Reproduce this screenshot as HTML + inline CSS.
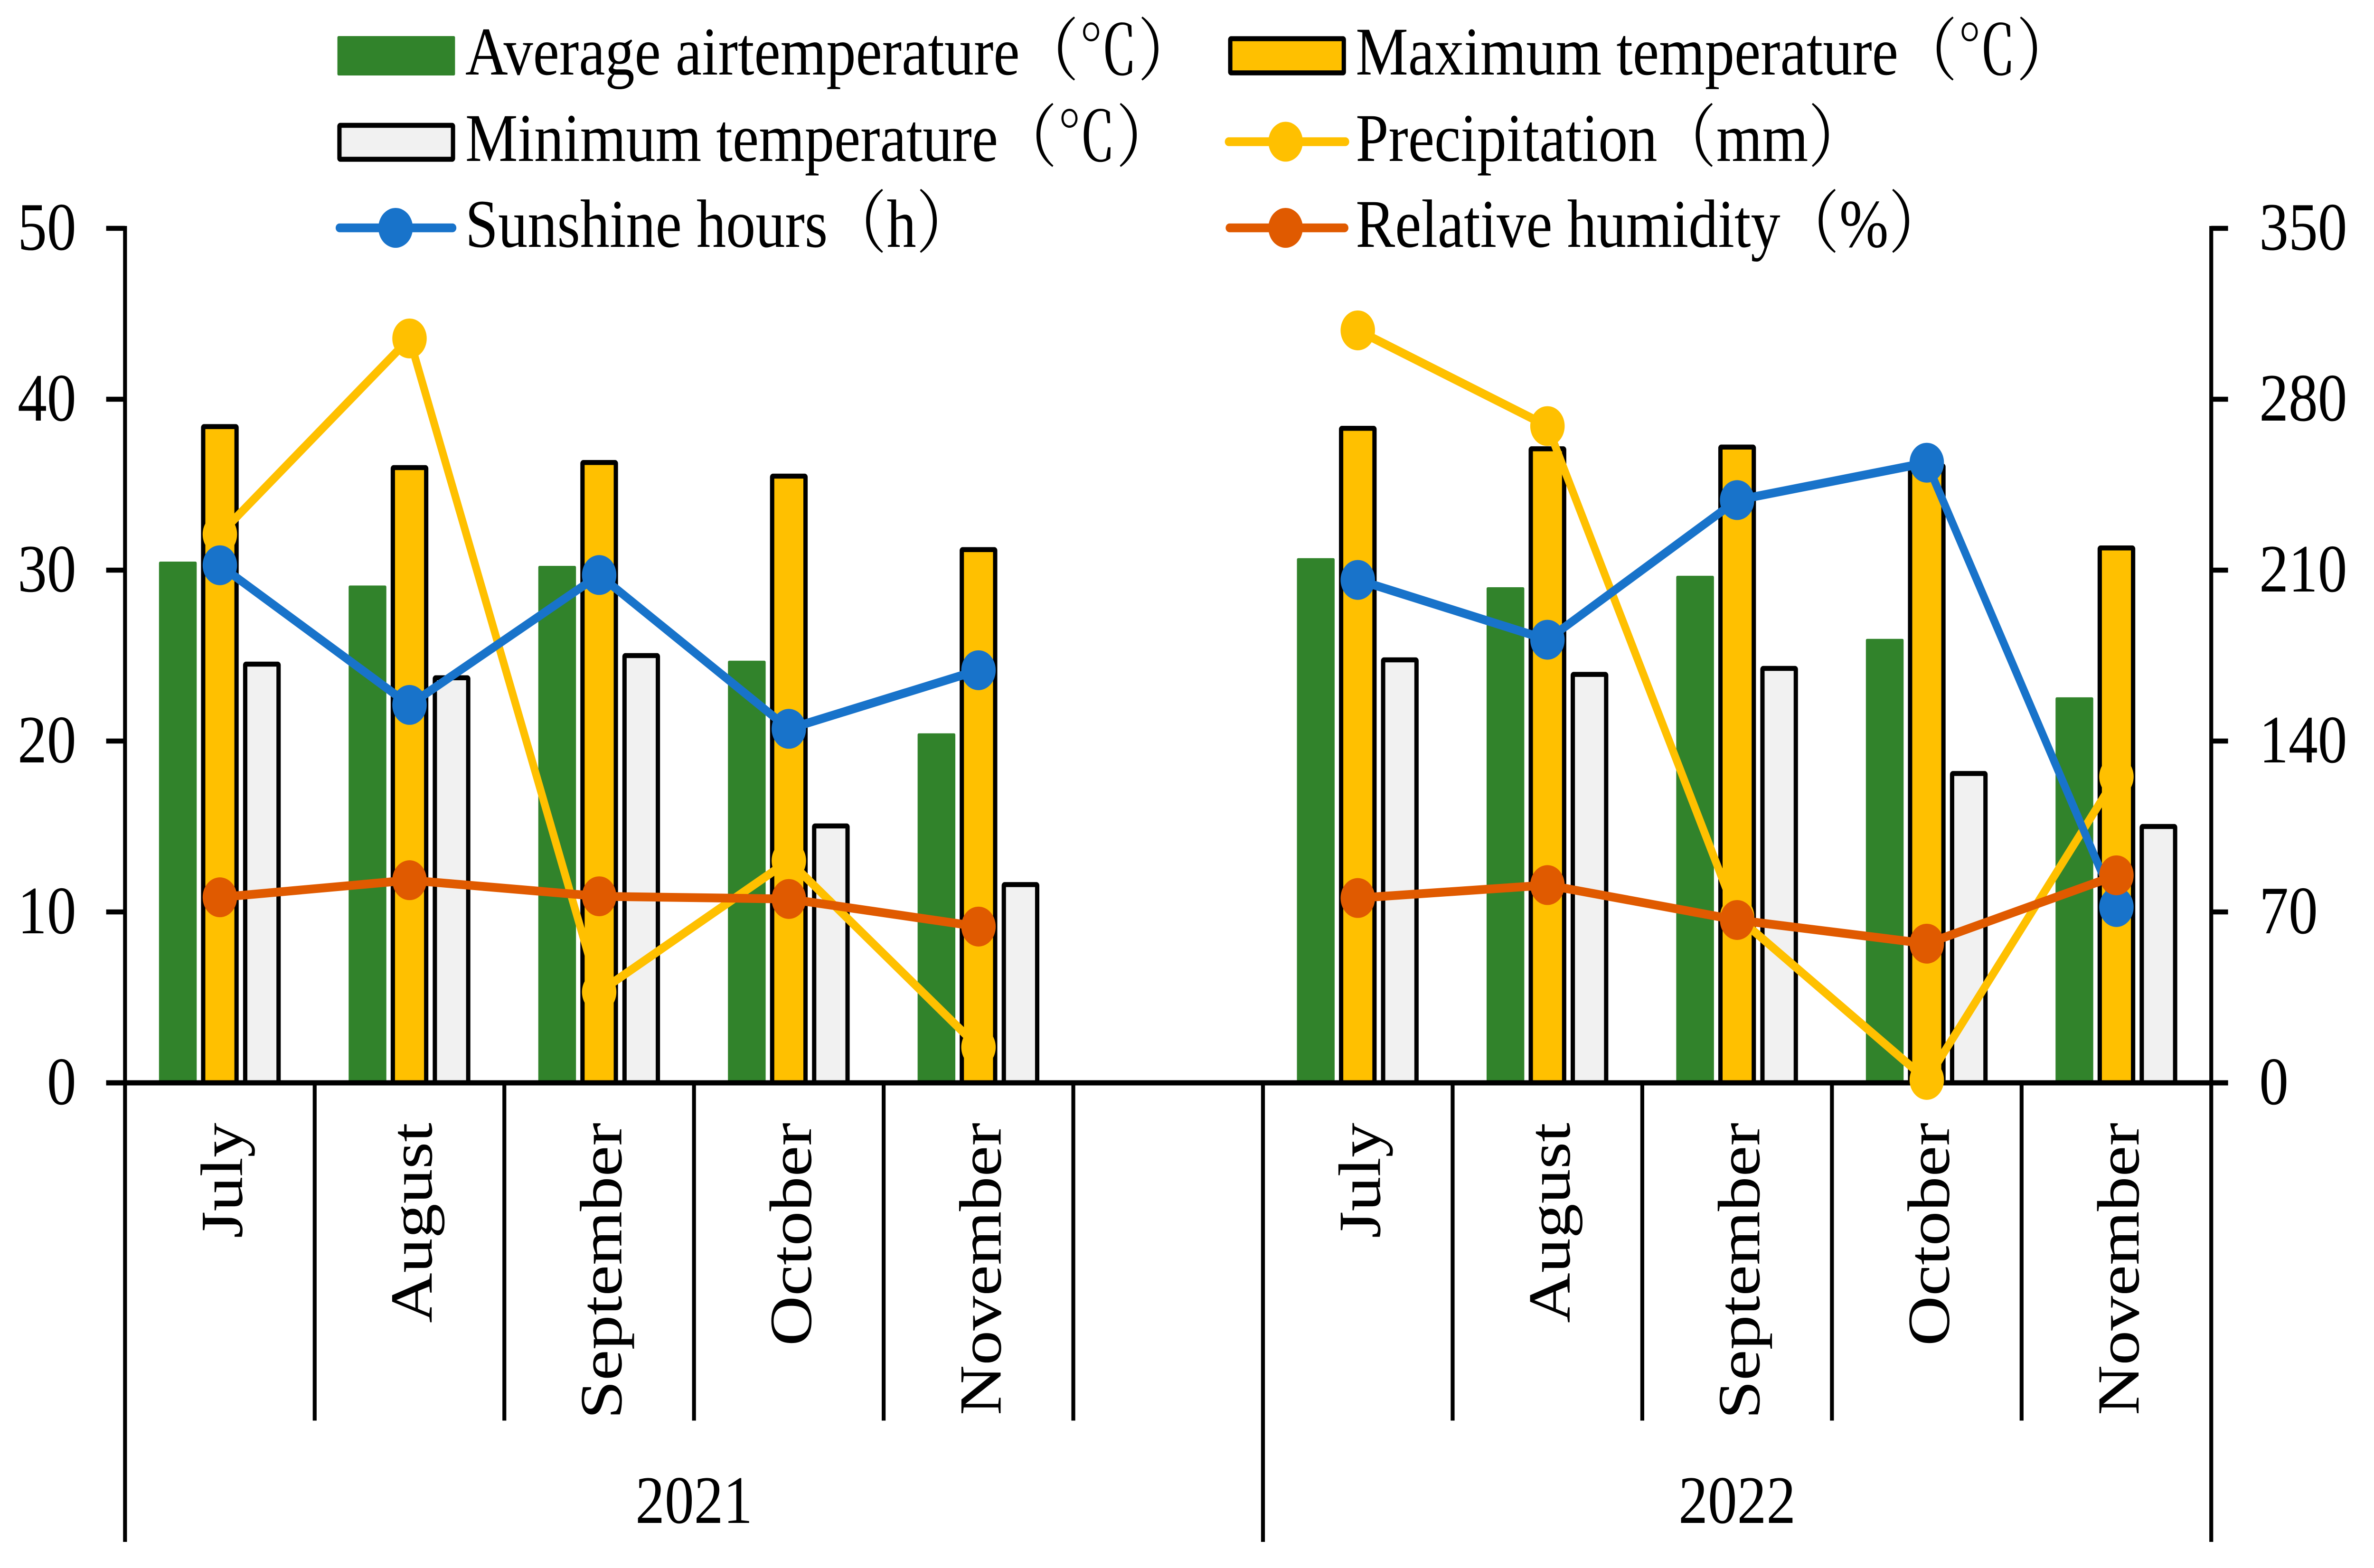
<!DOCTYPE html>
<html lang="en">
<head>
<meta charset="utf-8">
<title>Monthly weather conditions, 2021 and 2022</title>
<style>
html,body{margin:0;padding:0;background:#fff;width:100%;height:100%;overflow:hidden;}
svg{display:block;position:fixed;left:0;top:0;width:100vw;height:100vh;}
text{font-family:"Liberation Serif","Noto Serif CJK SC",serif;font-size:143px;fill:#000;}
#legend text{font-size:144px;}
</style>
</head>
<body>
<svg id="chart" xmlns="http://www.w3.org/2000/svg" viewBox="0 0 5791 3303" preserveAspectRatio="none">
  <rect x="0" y="0" width="5791" height="3303" fill="#fff"/>
  <g id="bars"></g>
  <g id="axes"></g>
  <g id="lines"></g>
  <g id="legend">
    <g>
      <rect x="823" y="76" width="287" height="83" rx="3" fill="#31832B"/>
      <text x="1135" y="157">Average airtemperature（℃）</text>
    </g>
    <g>
      <rect x="3001" y="81.5" width="277" height="72" rx="2" fill="#FFC000" stroke="#000" stroke-width="10.5"/>
      <text x="3307" y="157">Maximum temperature（℃）</text>
    </g>
    <g>
      <rect x="828" y="264" width="277" height="71.5" rx="2" fill="#F1F1F1" stroke="#000" stroke-width="10.5"/>
      <text x="1135" y="339">Minimum temperature（℃）</text>
    </g>
    <g>
      <line x1="2997" y1="298.5" x2="3282" y2="298.5" stroke="#FFC000" stroke-width="18.5" stroke-linecap="round"/>
      <circle cx="3136" cy="298.5" r="42" fill="#FFC000"/>
      <text x="3307" y="339">Precipitation（mm）</text>
    </g>
    <g>
      <line x1="828" y1="480" x2="1104" y2="480" stroke="#1873CA" stroke-width="18.5" stroke-linecap="round"/>
      <circle cx="965" cy="480" r="42" fill="#1873CA"/>
      <text x="1135" y="520">Sunshine hours（h）</text>
    </g>
    <g>
      <line x1="2999" y1="480" x2="3280" y2="480" stroke="#E05A00" stroke-width="18.5" stroke-linecap="round"/>
      <circle cx="3136" cy="480" r="42" fill="#E05A00"/>
      <text x="3307" y="520">Relative humidity（%）</text>
    </g>
  </g>
</svg>
<script>
const categories = ['July','August','September','October','November','','July','August','September','October','November'];
const years = ['2021','2022'];
const leftTicks = [0,10,20,30,40,50];
const rightTicks = [0,70,140,210,280,350];
const averageTemp = [30.5,29.1,30.25,24.7,20.45,null,30.7,29.0,29.67,25.98,22.56];
const maximumTemp = [38.4,36.0,36.3,35.5,31.2,null,38.3,37.1,37.2,36.1,31.3];
const minimumTemp = [24.5,23.7,25.0,15.03,11.6,null,24.75,23.9,24.25,18.1,15.0];
const precipitation = [224.7,304.9,37.2,91,14.6,null,308.2,269,68,1.2,125.4];
const sunshineHours = [212,154.8,208,145,169,null,206,181.5,238.7,254,72];
const relativeHumidity = [76,83,76.4,75.3,64,null,75.7,81,66.7,57,85];

const NS = 'http://www.w3.org/2000/svg';
const plotLeft = 305, plotRight = 5394, plotTop = 481, plotBottom = 2281;
const leftMax = leftTicks[leftTicks.length - 1];
const rightMax = rightTicks[rightTicks.length - 1];
const catWidth = (plotRight - plotLeft) / categories.length;
const barOffset = 102.5;
const xEdge = i => plotLeft + i * catWidth;
const xCenter = i => plotLeft + (i + 0.5) * catWidth;
const yLeft = v => plotBottom - (v / leftMax) * (plotBottom - plotTop);
const yRight = v => plotBottom - (v / rightMax) * (plotBottom - plotTop);

function make(tag, attrs, parent, content) {
  const el = document.createElementNS(NS, tag);
  for (const k in attrs) el.setAttribute(k, attrs[k]);
  if (content !== undefined) el.textContent = content;
  parent.appendChild(el);
  return el;
}
const barsG = document.getElementById('bars');
const axesG = document.getElementById('axes');
const linesG = document.getElementById('lines');

categories.forEach((cat, i) => {
  if (averageTemp[i] !== null) {
    const yA = yLeft(averageTemp[i]);
    const a = make('rect', {x: xCenter(i) - barOffset - 46, y: yA, width: 92, height: plotBottom - yA, rx: 3, fill: '#31832B'}, barsG);
    
    
  }
  if (maximumTemp[i] !== null) {
    const yM = yLeft(maximumTemp[i]);
    const m = make('rect', {x: xCenter(i) - 40.7, y: yM, width: 81.4, height: plotBottom - yM, rx: 2, fill: '#FFC000', stroke: '#000', 'stroke-width': 10.5}, barsG);
    
    
  }
  if (minimumTemp[i] !== null) {
    const yN = yLeft(minimumTemp[i]);
    const n = make('rect', {x: xCenter(i) + barOffset - 40.7, y: yN, width: 81.4, height: plotBottom - yN, rx: 2, fill: '#F1F1F1', stroke: '#000', 'stroke-width': 10.5}, barsG);
    
    
  }
});

const leftAxis = make('line', {x1: plotLeft, y1: plotTop - 5, x2: plotLeft, y2: 3248, stroke: '#000', 'stroke-width': 9.5}, axesG);


const rightAxis = make('line', {x1: plotRight, y1: plotTop - 5, x2: plotRight, y2: 3248, stroke: '#000', 'stroke-width': 9.5}, axesG);


const baseLine = make('line', {x1: 259, y1: plotBottom, x2: 5435, y2: plotBottom, stroke: '#000', 'stroke-width': 11}, axesG);



leftTicks.forEach(t => {
  const mark = make('line', {x1: 259, y1: yLeft(t), x2: plotLeft, y2: yLeft(t), stroke: '#000', 'stroke-width': 10.5}, axesG);
  
  
  const lab = make('text', {x: 186, y: yLeft(t) + 45, 'text-anchor': 'end'}, axesG, String(t));
  
  
});
rightTicks.forEach(t => {
  const mark = make('line', {x1: plotRight, y1: yRight(t), x2: 5435, y2: yRight(t), stroke: '#000', 'stroke-width': 10.5}, axesG);
  
  
  const lab = make('text', {x: 5511, y: yRight(t) + 45}, axesG, String(t));
  
  
});

for (let i = 1; i < categories.length; i++) {
  const long = categories[i - 1] === '';
  const div = make('line', {x1: xEdge(i), y1: plotBottom, x2: xEdge(i), y2: long ? 3248 : 2992.5, stroke: '#000', 'stroke-width': 9.5}, axesG);
  
  
}
categories.forEach((cat, i) => {
  if (!cat) return;
  const bx = xCenter(i) + 54;
  const lab = make('text', {x: bx, y: 2365, 'text-anchor': 'end', 'font-size': 146, style: 'font-size:146px', transform: 'rotate(-90 ' + bx + ' 2365)'}, axesG, cat);
  
  
});
const blank = categories.indexOf('');
years.forEach((yr, k) => {
  const mid = k === 0 ? (xEdge(0) + xEdge(blank + 1)) / 2 : (xEdge(blank + 1) + xEdge(categories.length)) / 2;
  const lab = make('text', {x: mid, y: 3208, 'text-anchor': 'middle'}, axesG, yr);
  
  
});

function drawSeries(values, color, name) {
  const group = make('g', {}, linesG);
  
  
  let seg = [];
  const flush = () => {
    if (seg.length > 1) {
      const pl = make('polyline', {points: seg.join(' '), fill: 'none', stroke: color, 'stroke-width': 18.5, 'stroke-linejoin': 'round'}, group);
      
      
    }
    seg = [];
  };
  values.forEach((v, i) => {
    if (v === null) { flush(); return; }
    seg.push(xCenter(i) + ',' + yRight(v));
  });
  flush();
  values.forEach((v, i) => {
    if (v === null) return;
    const c = make('circle', {cx: xCenter(i), cy: yRight(v), r: 42, fill: color}, group);
    
    
  });
}
drawSeries(precipitation, '#FFC000', 'precipitation');
drawSeries(sunshineHours, '#1873CA', 'sunshine-hours');
drawSeries(relativeHumidity, '#E05A00', 'relative-humidity');
</script>
</body>
</html>
